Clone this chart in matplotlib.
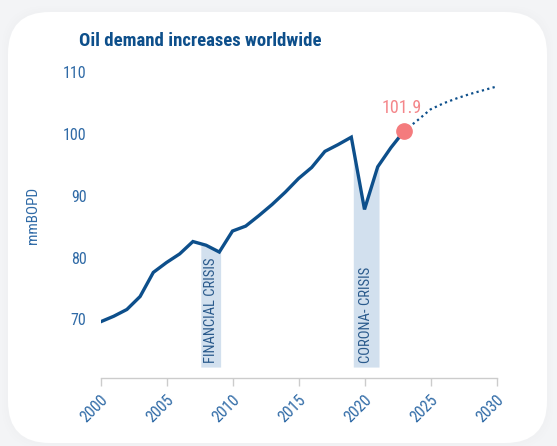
import matplotlib
matplotlib.use("Agg")
import matplotlib.pyplot as plt
import numpy as np
from matplotlib.patches import FancyBboxPatch
from matplotlib import font_manager

# ---- data ----
years = [2000, 2001, 2002, 2003, 2004, 2005, 2006, 2007, 2008, 2009, 2010, 2011,
         2012, 2013, 2014, 2015, 2016, 2017, 2018, 2019, 2020, 2021, 2022, 2023]
demand = [69.6, 70.5, 71.6, 73.7, 77.6, 79.2, 80.6, 82.6, 82.0, 80.9, 84.3, 85.1,
          86.8, 88.6, 90.6, 92.8, 94.6, 97.2, 98.3, 99.5, 87.8, 94.7, 97.8, 100.5]
forecast_years = [2023, 2024, 2025, 2026, 2027, 2028, 2029, 2030]
forecast = [100.5, 102.2, 104.0, 105.0, 105.8, 106.5, 107.1, 107.7]
highlight_year = 2023
highlight_value = 100.5
highlight_label = "101.9"
crisis_labels = ["FINANCIAL CRISIS", "CORONA- CRISIS"]
crisis_start = [2007.6, 2019.15]
crisis_end = [2009.1, 2021.1]
xticks = [2000, 2005, 2010, 2015, 2020, 2025, 2030]
yticks = [70, 80, 90, 100, 110]

# ---- fonts ----
names = {f.name for f in font_manager.fontManager.ttflist}
fam = None
for cand in ["Roboto Condensed", "Liberation Sans Narrow", "Open Sans Condensed", "DejaVu Sans Condensed"]:
    if cand in names:
        fam = cand
        break
stretch = "normal"
if fam is None:
    fam = "DejaVu Sans"
    stretch = "condensed"
plt.rcParams['font.family'] = [fam, 'DejaVu Sans']
plt.rcParams['font.stretch'] = stretch

W, H = 557, 446
fig = plt.figure(figsize=(W / 100, H / 100), dpi=100)
fig.patch.set_facecolor("#f3f4f6")

# card with soft shadow
for i, a in enumerate([0.03, 0.03, 0.03]):
    g = (i + 1) * 2
    sh = FancyBboxPatch(((8 - g) / W, (H - 443 - g) / H), (539 + 2 * g) / W, (431 + 2 * g) / H,
                        boxstyle="round,pad=0,rounding_size=0.08", transform=fig.transFigure,
                        facecolor="#dfe3ea", edgecolor="none", alpha=a, zorder=0,
                        mutation_aspect=W / H)
    fig.patches.append(sh)
card = FancyBboxPatch((8 / W, (H - 443) / H), 539 / W, 431 / H,
                      boxstyle="round,pad=0,rounding_size=0.075", transform=fig.transFigure,
                      facecolor="white", edgecolor="none", zorder=0.5, mutation_aspect=W / H)
fig.patches.append(card)

navy = "#0d4f8b"
tickc = "#2f6aa6"

ax = fig.add_axes([100.5 / W, 1 - 378 / H, 396 / W, 318 / H])
ax.set_zorder(2)
ax.set_facecolor("none")
ax.set_xlim(2000, 2030)
ax.set_ylim(60.5, 112)

yrs = np.array(years, dtype=float)
dem = np.array(demand, dtype=float)
for label, x0, x1 in zip(crisis_labels, crisis_start, crisis_end):
    inner = yrs[(yrs > x0) & (yrs < x1)]
    xs = np.concatenate([[x0], inner, [x1]])
    tops = np.interp(xs, yrs, dem)
    ax.fill_between(xs, 62.27, tops, color="#d2e0ee", lw=0, zorder=1)
    ax.text((x0 + x1) / 2, 62.9, label, rotation=90, ha="center", va="bottom",
            color="#2a5a8c", fontsize=10.5, zorder=2)

ax.plot(years, demand, color=navy, lw=2.4, zorder=3, solid_joinstyle="miter")
ax.plot(forecast_years, forecast, color=navy, lw=1.6, ls=(0, (1, 1.5)), zorder=3)
ax.plot([highlight_year], [highlight_value], "o", color="#f47b7d", ms=11, zorder=4)
ax.text(highlight_year - 0.2, highlight_value + 2.2, highlight_label, color="#f4868a",
        fontsize=13, ha="center", va="bottom", zorder=4)

ax.set_xticks(xticks)
ax.set_xticklabels([str(t) for t in xticks], rotation=45, ha="right", va="top",
                   rotation_mode="anchor", color=tickc, fontsize=11.5)
ax.set_yticks(yticks)
ax.set_yticklabels([str(t) for t in yticks], color=tickc, fontsize=11.5)
ax.tick_params(axis="y", length=0, pad=10)
ax.tick_params(axis="x", length=6, color="#cccccc", width=1, pad=4)
for s in ["top", "right", "left"]:
    ax.spines[s].set_visible(False)
ax.spines["bottom"].set_color("#cccccc")
ax.spines["bottom"].set_linewidth(1)

fig.text(33 / W, 1 - 215 / H, "mmBOPD", rotation=90, color=tickc, fontsize=11,
         ha="center", va="center")
fig.text(79 / W, 1 - 41 / H, "Oil demand increases worldwide", color=navy,
         fontsize=13.5, fontweight="bold", ha="left", va="center")

fig.savefig("out.png", dpi=100, facecolor=fig.get_facecolor())
